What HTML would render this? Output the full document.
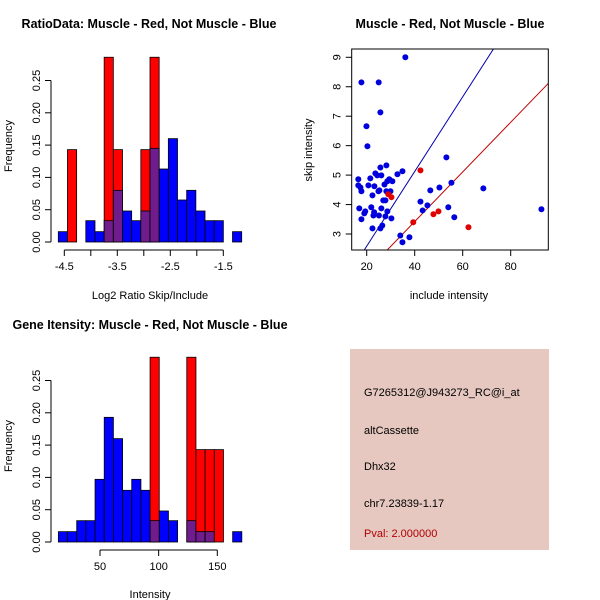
<!DOCTYPE html>
<html><head><meta charset="utf-8"><style>
body{margin:0;background:#fff}
svg{display:block;font-family:"Liberation Sans",Arial,sans-serif}
.t{font-weight:bold;font-size:12.5px}
.l{font-size:11px}
</style></head><body>
<svg id="c" width="600" height="600" viewBox="0 0 600 600">
<rect width="600" height="600" fill="#fff"/>
<text class="t" x="149" y="28" text-anchor="middle">RatioData: Muscle - Red, Not Muscle - Blue</text>
<text class="t" x="450" y="28" text-anchor="middle">Muscle - Red, Not Muscle - Blue</text>
<text class="t" x="150" y="329" text-anchor="middle">Gene Itensity: Muscle - Red, Not Muscle - Blue</text>
<text class="l" x="150" y="299" text-anchor="middle">Log2 Ratio Skip/Include</text>
<text class="l" x="449" y="299" text-anchor="middle">include intensity</text>
<text class="l" x="150" y="598" text-anchor="middle">Intensity</text>
<text class="l" transform="translate(12,146) rotate(-90)" text-anchor="middle">Frequency</text>
<text class="l" transform="translate(12,446) rotate(-90)" text-anchor="middle">Frequency</text>
<text class="l" transform="translate(312,150) rotate(-90)" text-anchor="middle">skip intensity</text>
<g>
<rect x="350" y="349" width="199" height="201" fill="#e6c8c0"/>
<text class="l" x="364" y="396">G7265312@J943273_RC@i_at</text>
<text class="l" x="364" y="434">altCassette</text>
<text class="l" x="364" y="470">Dhx32</text>
<text class="l" x="364" y="507">chr7.23839-1.17</text>
<text class="l" x="364" y="537" fill="#b00000">Pval: 2.000000</text>
</g>
</svg>
<script>
const ratioBlue=[0.016,0,0,0.033,0.016,0.033,0.08,0.048,0.033,0.048,0.145,0.113,0.16,0.065,0.08,0.048,0.033,0.033,0,0.016];
const ratioRed=[0,0.143,0,0,0,0.286,0.143,0,0,0.143,0.286,0,0,0,0,0,0,0,0,0];
const ratioStart=-4.613, ratioBin=0.173;
const ratioTicks=[-4.5,-4,-3.5,-3,-2.5,-2,-1.5];
const ratioTickLabels=["-4.5","","-3.5","","-2.5","","-1.5"];
const intBlue=[0.016,0.016,0.033,0.033,0.097,0.193,0.16,0.08,0.097,0.08,0.033,0.048,0.033,0,0.033,0.016,0.016,0,0,0.016];
const intRed=[0,0,0,0,0,0,0,0,0,0,0.286,0,0,0,0.286,0.143,0.143,0.143,0,0];
const intStart=14.5, intBin=7.82;
const intTicks=[50,100,150];
const freqTicks=[0,0.05,0.1,0.15,0.2,0.25];
const freqLabels=["0.00","0.05","0.10","0.15","0.20","0.25"];
const blueX=[17.8,25.0,36.1,25.7,19.9,20.3,25.7,28.2,34.9,32.8,16.5,21.5,23.6,24.4,26.1,16.5,20.7,17.4,17.8,23.2,24.9,25.3,22.4,27.4,28.6,29.4,30.7,28.2,29.9,26.9,27.8,16.9,21.9,26.1,28.6,19.4,19.0,23.1,22.8,25.1,27.8,17.8,30.3,26.5,22.4,25.7,34.0,34.9,37.8,42.4,43.3,45.3,46.5,50.3,53.2,55.3,54.0,56.5,68.6,92.8];
const blueY=[8.15,8.15,9.0,7.13,6.66,5.98,5.26,5.33,5.13,5.03,4.86,4.89,5.06,4.99,4.99,4.65,4.65,4.58,4.45,4.62,4.45,4.48,4.31,4.68,4.79,4.86,4.79,4.45,4.45,4.14,4.14,3.87,3.91,3.87,3.77,3.77,3.70,3.74,3.63,3.63,3.60,3.50,3.53,3.29,3.19,3.19,2.95,2.72,2.89,4.10,3.80,3.97,4.48,4.58,5.60,4.74,3.91,3.57,4.55,3.84];
const redX=[42.4,29.0,30.3,39.4,47.8,49.9,62.4];
const redY=[5.16,4.35,4.25,3.40,3.67,3.77,3.23];
const lineSlopes=[0.1268,0.0843];
const lineIntercepts=[0.05,0.05];
const lineColors=["#0000b0","#c00000"];
const scX=[20,40,60,80], scY=[3,4,5,6,7,8,9];

const svg=document.getElementById('c');
const NS='http://www.w3.org/2000/svg';
function mk(tag,a,parent){const e=document.createElementNS(NS,tag);for(const k in a)e.setAttribute(k,a[k]);(parent||svg).appendChild(e);return e;}

function hist(oy,blue,red,start,bin,xTicks,xLabels,xScale,x0px,x0val,prefix){
  const g=mk('g',{});
  
  
  const y0=oy+202, ys=646;
  const X=v=>x0px+(v-x0val)*xScale, Y=v=>y0-v*ys;
  for(let i=0;i<blue.length;i++){
    const xa=X(start+i*bin), xb=X(start+(i+1)*bin);
    const b=blue[i], r=red[i];
    if(r>0){const e=mk('rect',{x:xa,y:Y(r),width:xb-xa,height:r*ys,fill:'#ff0000',stroke:'#000','stroke-width':0.8},g);
      
      }
    if(b>0){const e=mk('rect',{x:xa,y:Y(b),width:xb-xa,height:b*ys,fill:r>0?'#701c8c':'#0000ff',stroke:'#000','stroke-width':0.8},g);
      
      
      if(r>0&&b>r){mk('rect',{x:xa,y:Y(b),width:xb-xa,height:(b-r)*ys,fill:'#0000ff',stroke:'#000','stroke-width':0.8},g);}}
  }
  // y axis
  const ax=51;
  mk('line',{x1:ax,x2:ax,y1:Y(0),y2:Y(0.25),stroke:'#000'},g);
  freqTicks.forEach((t,i)=>{mk('line',{x1:ax-6,x2:ax,y1:Y(t),y2:Y(t),stroke:'#000'},g);
    const tx=mk('text',{class:'l',transform:`translate(${ax-11},${Y(t)}) rotate(-90)`,'text-anchor':'middle'},g);tx.textContent=freqLabels[i];});
  // x axis
  const xy=oy+210;
  mk('line',{x1:X(xTicks[0]),x2:X(xTicks[xTicks.length-1]),y1:xy,y2:xy,stroke:'#000'},g);
  xTicks.forEach((t,i)=>{mk('line',{x1:X(t),x2:X(t),y1:xy,y2:xy+6,stroke:'#000'},g);
    if(xLabels[i]){const tx=mk('text',{class:'l',x:X(t),y:xy+20,'text-anchor':'middle'},g);tx.textContent=xLabels[i];}});
}
hist(40,ratioBlue,ratioRed,ratioStart,ratioBin,ratioTicks,ratioTickLabels,53,64.3,-4.5,'ratio');
hist(340,intBlue,intRed,intStart,intBin,intTicks,intTicks.map(String),1.173,100,50,'intensity');

// scatter
const sg=mk('g',{});


const L=351.7,R=548.3,T=49,B=250;
const SX=v=>366.7+(v-20)*2.4, SY=v=>57.3-(v-9)*29.45;
const clip=mk('clipPath',{id:'cp'},sg);mk('rect',{x:L,y:T,width:R-L,height:B-T},clip);
lineSlopes.forEach((s,i)=>{const x1=0,x2=120;
  const e=mk('line',{x1:SX(x1),y1:SY(lineIntercepts[i]+s*x1),x2:SX(x2),y2:SY(lineIntercepts[i]+s*x2),stroke:lineColors[i],'stroke-width':1,'clip-path':'url(#cp)'},sg);
  
  });
blueX.forEach((x,i)=>{const e=mk('circle',{cx:SX(x),cy:SY(blueY[i]),r:3,fill:'#0000dd'},sg);
  
  });
redX.forEach((x,i)=>{const e=mk('circle',{cx:SX(x),cy:SY(redY[i]),r:3,fill:'#e00000'},sg);
  
  });
mk('rect',{x:L,y:T,width:R-L,height:B-T,fill:'none',stroke:'#000'},sg);
scX.forEach(t=>{mk('line',{x1:SX(t),x2:SX(t),y1:B,y2:B+6,stroke:'#000'},sg);
  const tx=mk('text',{class:'l',x:SX(t),y:B+20,'text-anchor':'middle'},sg);tx.textContent=t;});
scY.forEach(t=>{mk('line',{x1:L-6,x2:L,y1:SY(t),y2:SY(t),stroke:'#000'},sg);
  const tx=mk('text',{class:'l',transform:`translate(${L-11},${SY(t)}) rotate(-90)`,'text-anchor':'middle'},sg);tx.textContent=t;});
</script>
</body></html>
